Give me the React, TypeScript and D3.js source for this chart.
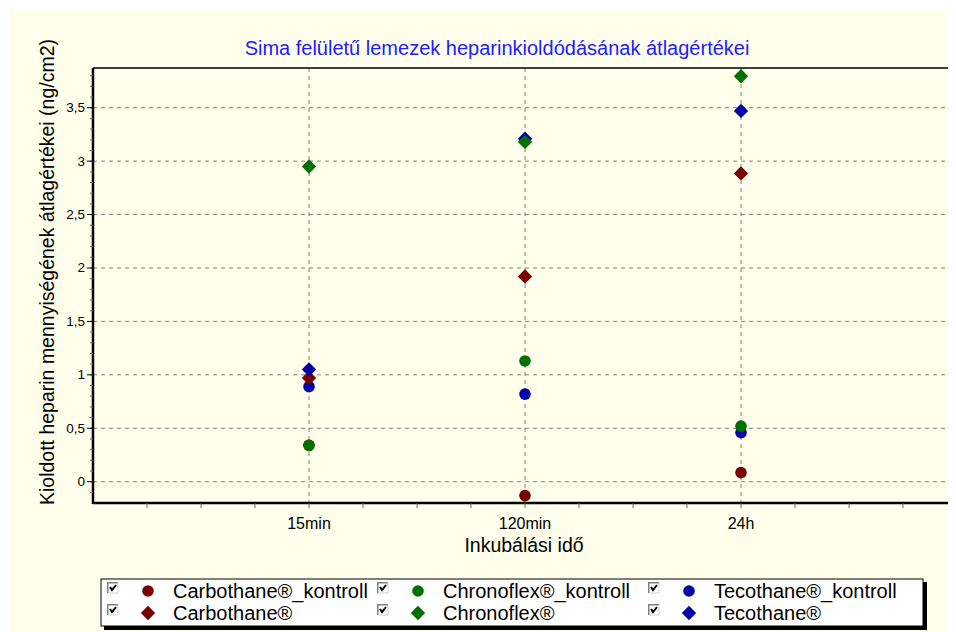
import React from "react";
import * as d3 from "d3";

const categories = ["15min", "120min", "24h"];
const carbothaneKontroll = [0.34, -0.13, 0.085];
const carbothane = [0.97, 1.92, 2.885];
const chronoflexKontroll = [0.34, 1.13, 0.52];
const chronoflex = [2.95, 3.18, 3.795];
const tecothaneKontroll = [0.89, 0.82, 0.46];
const tecothane = [1.05, 3.21, 3.47];
const yTicks = [0, 0.5, 1, 1.5, 2, 2.5, 3, 3.5];

const seriesList = [
  { name: "Carbothane®_kontroll", values: carbothaneKontroll, color: "#7a0000", shape: "circle" },
  { name: "Chronoflex®_kontroll", values: chronoflexKontroll, color: "#007000", shape: "circle" },
  { name: "Tecothane®_kontroll", values: tecothaneKontroll, color: "#0000a8", shape: "circle" },
  { name: "Carbothane®", values: carbothane, color: "#7a0000", shape: "diamond" },
  { name: "Chronoflex®", values: chronoflex, color: "#007000", shape: "diamond" },
  { name: "Tecothane®", values: tecothane, color: "#0000a8", shape: "diamond" },
];
const drawOrder = [0, 2, 1, 3, 5, 4];

const FONT = "'Liberation Sans', Arial, sans-serif";

const L = 93, R = 957, T = 68, B = 503;

function Marker({ x, y, color, shape }: { x: number; y: number; color: string; shape: string }) {
  if (shape === "circle") return <circle cx={x} cy={y} r={5.8} fill={color} />;
  const s = 7.2;
  return <path d={`M${x},${y - s}L${x + s},${y}L${x},${y + s}L${x - s},${y}Z`} fill={color} />;
}

function CheckBox({ x, y }: { x: number; y: number }) {
  return (
    <g>
      <rect x={x} y={y} width={11} height={11} fill="#ffffff" />
      <path d={`M${x + 0.75},${y + 11}V${y + 0.75}H${x + 11}`} stroke="#808080" strokeWidth={1.5} fill="none" />
      <path d={`M${x + 11},${y + 1}V${y + 11}H${x + 1}`} stroke="#d4d0c8" strokeWidth={1} fill="none" />
      <path d={`M${x + 3},${y + 5}L${x + 5},${y + 8}L${x + 9},${y + 3}`} stroke="#000" strokeWidth={2} fill="none" />
    </g>
  );
}

export default function App() {
  const x = d3.scaleLinear().domain([0, 4]).range([L, R]);
  const y = d3.scaleLinear().domain([0, 3.5]).range([481.7, 107.7]);
  const yMin = y.invert(B);
  const yMax = y.invert(T);
  const minorY = d3.range(Math.ceil(yMin * 10), Math.floor(yMax * 10) + 1).map((v) => v / 10);
  const minorX = d3.range(1, 16).map((v) => v / 4);

  const legendCols = [107, 377, 648];
  const legendRows = [591, 613];

  return (
    <svg width={948} height={624} style={{ display: "block" }}>
      <g transform="translate(-8,-8)">
        <rect x={9} y={9} width={948} height={624} fill="#ffffeb" />
        <text x={497} y={55} textAnchor="middle" fontFamily={FONT} fontSize={20} fill="#2020ff">
          Sima felületű lemezek heparinkioldódásának átlagértékei
        </text>
        {yTicks.map((t) => (
          <line key={"gy" + t} x1={L} x2={R} y1={y(t)} y2={y(t)} stroke="#808080" strokeDasharray="4,4" />
        ))}
        {categories.map((c, i) => (
          <line key={"gx" + c} x1={x(i + 1)} x2={x(i + 1)} y1={T} y2={B} stroke="#808080" strokeDasharray="4,4" />
        ))}
        <line x1={L} x2={R} y1={T} y2={T} stroke="#000" strokeWidth={1.5} />
        <line x1={L} x2={L} y1={T} y2={B + 1} stroke="#000" strokeWidth={2.5} />
        <line x1={L} x2={R} y1={B} y2={B} stroke="#000" strokeWidth={2.5} />
        {minorY.map((t) => (
          <line key={"my" + t} x1={L - 3} x2={L} y1={y(t)} y2={y(t)} stroke="#606060" />
        ))}
        {yTicks.map((t) => (
          <g key={"ty" + t}>
            <line x1={L - 6} x2={L} y1={y(t)} y2={y(t)} stroke="#000" />
            <text x={85} y={y(t) + 4.5} textAnchor="end" fontFamily={FONT} fontSize={13.5} fill="#000">
              {String(t).replace(".", ",")}
            </text>
          </g>
        ))}
        {minorX.map((t) => (
          <line key={"mx" + t} x1={x(t)} x2={x(t)} y1={B} y2={B + 5} stroke="#606060" />
        ))}
        {categories.map((c, i) => (
          <text key={"tx" + c} x={x(i + 1)} y={529} textAnchor="middle" fontFamily={FONT} fontSize={16} fill="#000">
            {c}
          </text>
        ))}
        <text x={524} y={552} textAnchor="middle" fontFamily={FONT} fontSize={19.5} fill="#000">
          Inkubálási idő
        </text>
        <text
          transform={`translate(54,272) rotate(-90)`}
          textAnchor="middle"
          fontFamily={FONT}
          fontSize={19.5}
          fill="#000"
        >
          Kioldott heparin mennyiségének átlagértékei (ng/cm2)
        </text>
        {drawOrder.map((si) => {
          const s = seriesList[si];
          return (
            <g key={s.name}>
              {s.values.map((v, i) => (
                <Marker key={i} x={x(i + 1)} y={y(v)} color={s.color} shape={s.shape} />
              ))}
            </g>
          );
        })}
        <rect x={104} y={582} width={823} height={48} fill="#000" />
        <rect x={101} y={579} width={822} height={47} fill="#ffffff" stroke="#000" strokeWidth={1} />
        {seriesList.map((s, i) => {
          const col = i % 3;
          const row = Math.floor(i / 3);
          const cx = legendCols[col];
          const cy = legendRows[row];
          return (
            <g key={"lg" + s.name}>
              <CheckBox x={cx} y={cy - 9} />
              <Marker x={cx + 41} y={cy} color={s.color} shape={s.shape} />
              <text x={cx + 66} y={cy + 7} fontFamily={FONT} fontSize={20} fill="#000">
                {s.name}
              </text>
            </g>
          );
        })}
      </g>
    </svg>
  );
}
